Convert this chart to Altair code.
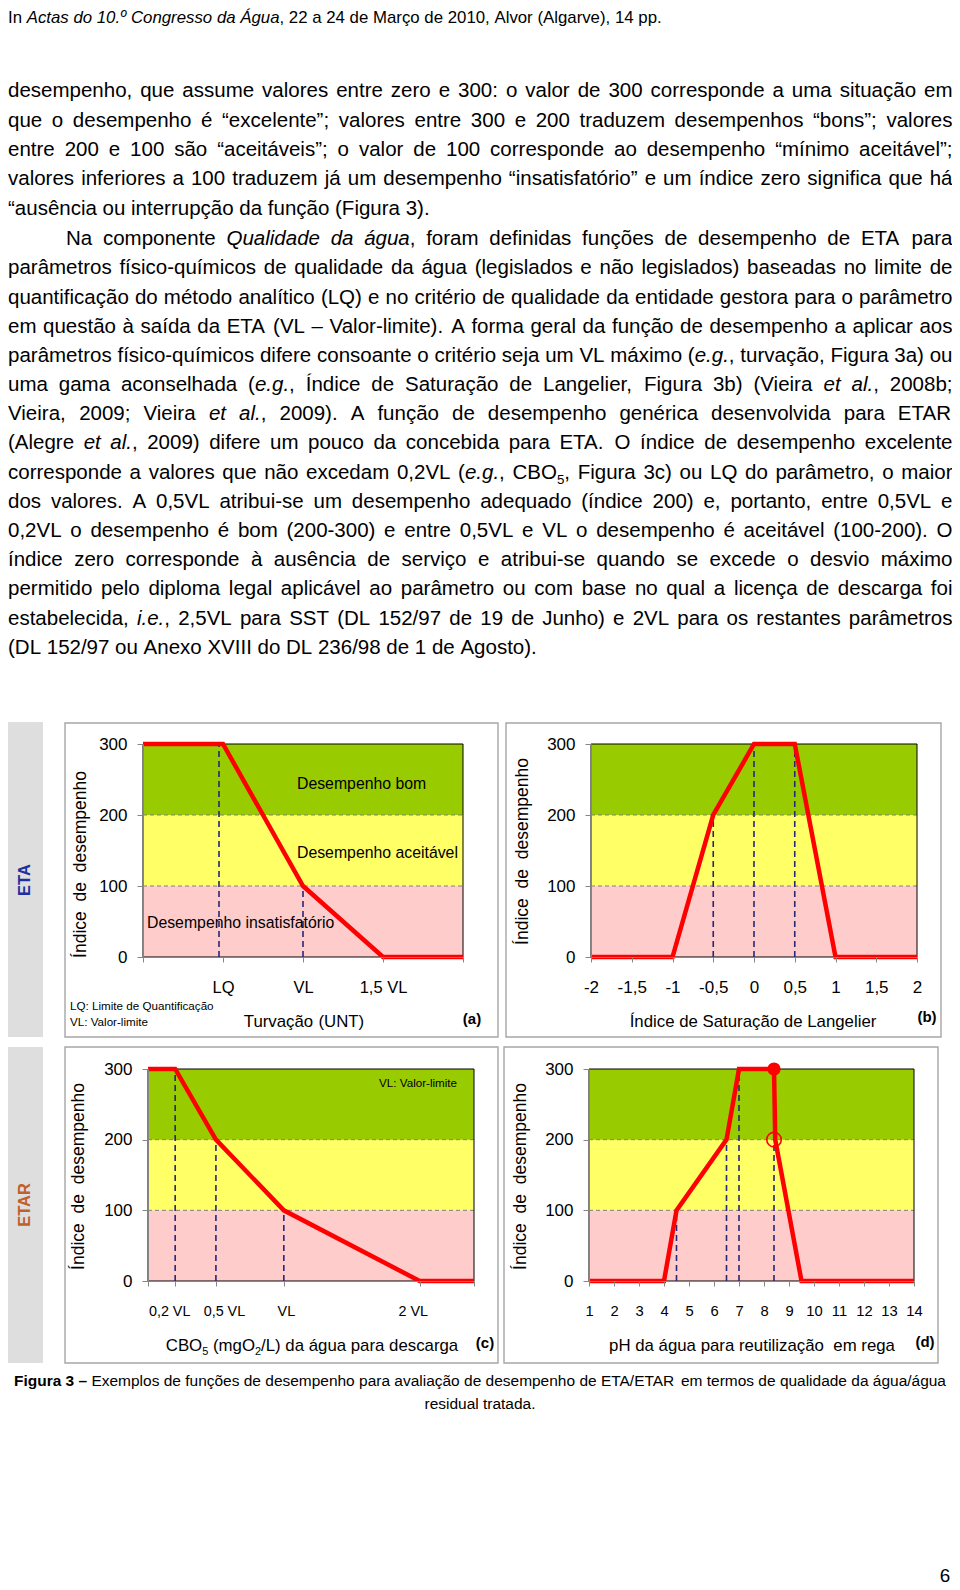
import altair as alt
import pandas as pd

# ======================= DATA =======================
zone_names = ["insatisfatório", "aceitável", "bom"]
zone_lo = [0, 100, 200]
zone_hi = [100, 200, 300]
y_ticks = [0, 100, 200, 300]

# (a) Turvação (ETA)
a_x = [0, 1, 2, 3, 4]
a_y = [300, 300, 100, 0, 0]
a_guide_x = [0.95, 2]
a_guide_y = [300, 100]
a_tick_values = [0, 1, 2, 3, 4]
a_tick_labels = ["", "LQ", "VL", "1,5 VL", ""]

# (b) Índice de Saturação de Langelier (ETA)
b_x = [-2, -1, -0.5, 0, 0.5, 1, 2]
b_y = [0, 0, 200, 300, 300, 0, 0]
b_guide_x = [-0.5, 0, 0.5]
b_guide_y = [200, 300, 300]
b_tick_values = [-2, -1.5, -1, -0.5, 0, 0.5, 1, 1.5, 2]

# (c) CBO5 (ETAR)
c_x = [0, 0.2, 0.5, 1, 2, 2.4]
c_y = [300, 300, 200, 100, 0, 0]
c_guide_x = [0.2, 0.5, 1]
c_guide_y = [300, 200, 100]
c_tick_values = [0, 0.2, 0.5, 1, 2, 2.4]
c_tick_labels = ["", "0,2 VL", "0,5 VL", "VL", "2 VL", ""]

# (d) pH (ETAR)
d_x = [1, 4, 4.5, 6.5, 7, 8.4, 8.45, 9.5, 14]
d_y = [0, 0, 100, 200, 300, 300, 200, 0, 0]
d_guide_x = [4.5, 6.5, 7, 8.4]
d_guide_y = [100, 200, 300, 300]
d_tick_values = [1, 2, 3, 4, 5, 6, 7, 8, 9, 10, 11, 12, 13, 14]
d_full_x = [8.4]
d_full_y = [300]
d_open_x = [8.4]
d_open_y = [200]

header = "In *Actas do 10.º Congresso da Água*, 22 a 24 de Março de 2010, Alvor (Algarve), 14 pp."
para1 = [
    "desempenho, que assume valores entre zero e 300: o valor de 300 corresponde a uma situação em",
    "que o desempenho é “excelente”; valores entre 300 e 200 traduzem desempenhos “bons”; valores",
    "entre 200 e 100 são “aceitáveis”; o valor de 100 corresponde ao desempenho “mínimo aceitável”;",
    "valores inferiores a 100 traduzem já um desempenho “insatisfatório” e um índice zero significa que há",
    "“ausência ou interrupção da função (Figura 3).",
]
para2 = [
    "Na componente *Qualidade da água*, foram definidas funções de desempenho de ETA para",
    "parâmetros físico-químicos de qualidade da água (legislados e não legislados) baseadas no limite de",
    "quantificação do método analítico (LQ) e no critério de qualidade da entidade gestora para o parâmetro",
    "em questão à saída da ETA (VL – Valor-limite). A forma geral da função de desempenho a aplicar aos",
    "parâmetros físico-químicos difere consoante o critério seja um VL máximo (*e.g.*, turvação, Figura 3a) ou",
    "uma gama aconselhada (*e.g.*, Índice de Saturação de Langelier, Figura 3b) (Vieira *et al.*, 2008b;",
    "Vieira, 2009; Vieira *et al.*, 2009). A função de desempenho genérica desenvolvida para ETAR",
    "(Alegre *et al.*, 2009) difere um pouco da concebida para ETA. O índice de desempenho excelente",
    "corresponde a valores que não excedam 0,2VL (*e.g.*, CBO{5}, Figura 3c) ou LQ do parâmetro, o maior",
    "dos valores. A 0,5VL atribui-se um desempenho adequado (índice 200) e, portanto, entre 0,5VL e",
    "0,2VL o desempenho é bom (200-300) e entre 0,5VL e VL o desempenho é aceitável (100-200). O",
    "índice zero corresponde à ausência de serviço e atribui-se quando se excede o desvio máximo",
    "permitido pelo diploma legal aplicável ao parâmetro ou com base no qual a licença de descarga foi",
    "estabelecida, *i.e.*, 2,5VL para SST (DL 152/97 de 19 de Junho) e 2VL para os restantes parâmetros",
    "(DL 152/97 ou Anexo XVIII do DL 236/98 de 1 de Agosto).",
]
caption = [
    "#Figura 3 –# Exemplos de funções de desempenho para avaliação de desempenho de ETA/ETAR em termos de qualidade da água/água",
    "residual tratada.",
]
y_title = "Índice\u00a0 de\u00a0 desempenho"
x_titles = {
    "a": "Turvação (UNT)",
    "b": "Índice de Saturação de Langelier",
    "c": "CBO{5} (mgO{2}/L) da água para descarga",
    "d": "pH da água para reutilização  em rega",
}
zone_notes = ["Desempenho insatisfatório", "Desempenho aceitável", "Desempenho bom"]
legend_notes = ["LQ: Limite de Quantificação", "VL: Valor-limite"]
panel_tags = ["(a)", "(b)", "(c)", "(d)"]
strip_labels = ["ETA", "ETAR"]
page_number = "6"

# ======================= STYLE / LAYOUT =======================
FONT = "Liberation Sans, Arial, sans-serif"
NARROW_K = 0.82          # narrow face emulated by a smaller Arial-metric font
ZONE_COLORS = ["#ffcccc", "#ffff66", "#99cc00"]
RED = "#ff0000"
GUIDE_C = "#26267a"
BOUND_C = "#808080"
AXIS_C = "#868686"
FRAME_C = "#a6a6a6"
STRIP_C = "#dedede"
ETA_C = "#1f2f9f"
ETAR_C = "#c0602a"

M = 8
W, H = 944, 1578

GEOM = {
    "a": dict(x0=143, x1=463, ybot=957, ytop=744, yt=(80, 864), xt=(304, 1022)),
    "b": dict(x0=591, x1=917, ybot=957, ytop=744, yt=(522, 851), xt=(753, 1022)),
    "c": dict(x0=148, x1=474, ybot=1281, ytop=1069, yt=(78, 1176), xt=(312, 1346)),
    "d": dict(x0=589, x1=914, ybot=1281, ytop=1069, yt=(520, 1176), xt=(752, 1346)),
}
# per-label nudges of the (c) tick labels, in pixels
C_LABEL_NUDGE = {0.2: -6, 0.5: 8, 1: 2, 2: -7}

# Arial (= Liberation Sans) advance widths, per 1000 em
WID = {}
for ch in "0123456789":
    WID[ch] = 556
WID.update({" ": 278, ",": 278, ".": 278, ":": 278, ";": 278, "(": 333, ")": 333,
            "-": 333, "/": 278, "–": 556, "“": 333, "”": 333, "º": 365, "\u00a0": 278})
WID.update(dict(A=667, B=667, C=722, D=722, E=667, F=611, G=778, H=722, I=278, J=500,
                K=667, L=556, M=833, N=722, O=778, P=667, Q=778, R=722, S=667, T=611,
                U=722, V=667, W=944, X=667, Y=667, Z=611))
WID.update(dict(a=556, b=556, c=500, d=556, e=556, f=278, g=556, h=556, i=222, j=222,
                k=500, l=222, m=833, n=556, o=556, p=556, q=556, r=333, s=500, t=278,
                u=556, v=500, w=722, x=500, y=500, z=500))
for ch in "áàâãäéèêóòôõúù":
    WID[ch] = 556
for ch in "íìî":
    WID[ch] = 278
WID.update({"ç": 500, "Á": 667, "Í": 278, "É": 667, "Ó": 778, "Ç": 722})
BOLD_W = dict(WID)
BOLD_W.update(dict(i=278, g=611, u=611, r=389))

SUB = 0.65


def tw(s, fs, bold=False):
    table = BOLD_W if bold else WID
    return sum(table.get(ch, 556) for ch in s) / 1000.0 * fs * NARROW_K


def parse_words(line):
    words, ital, bold, sub = [], False, False, False
    for raw in line.split(" "):
        segs, buf = [], ""
        for ch in raw:
            if ch in "*#{}":
                if buf:
                    segs.append((buf, ital, bold, sub))
                    buf = ""
                if ch == "*":
                    ital = not ital
                elif ch == "#":
                    bold = not bold
                elif ch == "{":
                    sub = True
                else:
                    sub = False
            else:
                buf += ch
        if buf:
            segs.append((buf, ital, bold, sub))
        words.append(segs)
    return words


def line_width(line, fs):
    words = parse_words(line)
    total = 0.0
    for segs in words:
        for t, it, bd, sb in segs:
            total += tw(t, fs * SUB if sb else fs, bd)
    return total + tw(" ", fs) * (len(words) - 1)


rows = []


def set_line(line, y, left=None, right=None, fs=25.0, justify=False, center=None, rightalign=None):
    words = parse_words(line)

    def sw(seg):
        t, it, bd, sb = seg
        return tw(t, fs * SUB if sb else fs, bd)

    widths = [sum(sw(s) for s in wd) for wd in words]
    gap = tw(" ", fs)
    n = len(words)
    if justify and n > 1:
        gap = (right - left - sum(widths)) / (n - 1)
    total = sum(widths) + gap * (n - 1)
    if center is not None:
        left = center - total / 2
    if rightalign is not None:
        left = rightalign - total
    x = left
    for segs in words:
        for seg in segs:
            t, it, bd, sb = seg
            f = fs * SUB if sb else fs
            style = "b" if bd else ("i" if it else "n")
            rows.append(dict(x=x, y=y + (0.28 * fs if sb else 0), text=t,
                             fs=f * NARROW_K, style=style))
            x += tw(t, f, bd)
        x += gap


# ---- page text ----
set_line(header, 18, left=8, fs=20.5)
P1_Y0, P1_DY = 91.2, 29.4
for k, ln in enumerate(para1):
    last = k == len(para1) - 1
    set_line(ln, P1_Y0 + k * P1_DY, left=8, right=952.5, fs=25, justify=not last)
P2_Y0, P2_DY = 239.2, 29.18
for k, ln in enumerate(para2):
    last = k == len(para2) - 1
    set_line(ln, P2_Y0 + k * P2_DY, left=66 if k == 0 else 8, right=952.5, fs=25, justify=not last)
cap_fs = 20.0 * 932.0 / line_width(caption[0], 20.0)
set_line(caption[0], 1381, center=480, fs=cap_fs)
set_line(caption[1], 1404, center=480, fs=cap_fs)
set_line(page_number, 1576, center=945, fs=23)

# ---- chart annotations ----
set_line(zone_notes[2], 784, left=297, fs=19.3)
set_line(zone_notes[1], 853, left=297, fs=19.3)
set_line(zone_notes[0], 923, left=147, fs=19.3)
set_line(legend_notes[0], 1007, left=70, fs=14.2)
set_line(legend_notes[1], 1023, left=70, fs=14.2)
set_line(legend_notes[1], 1084, rightalign=458, fs=14.2)
for key in "abcd":
    g = GEOM[key]
    set_line(x_titles[key], g["xt"][1], center=g["xt"][0], fs=20.5)

textdf = pd.DataFrame(rows)


def PXS():
    return alt.Scale(domain=[M, M + W], range=[0, W], nice=False, zero=False)


def PYS():
    return alt.Scale(domain=[M, M + H], range=[0, H], nice=False, zero=False)


def page_enc(xf="x", yf="y"):
    return dict(x=alt.X(f"{xf}:Q", scale=PXS(), axis=None), y=alt.Y(f"{yf}:Q", scale=PYS(), axis=None))


layers = []

# ---- strips and frames (page layout) ----
strips = pd.DataFrame({"x": [M, M], "x2": [43, 43], "y": [722, 1047], "y2": [1037, 1363]})
layers.append(
    alt.Chart(strips).mark_rect(color=STRIP_C).encode(
        x=alt.X("x:Q", scale=PXS(), axis=None), x2="x2:Q",
        y=alt.Y("y:Q", scale=PYS(), axis=None), y2="y2:Q")
)
frames = pd.DataFrame({"x": [65, 506, 65, 504], "x2": [498, 941, 498, 938],
                       "y": [723, 723, 1047, 1047], "y2": [1037, 1037, 1363, 1363]})
layers.append(
    alt.Chart(frames).mark_rect(fillOpacity=0, stroke=FRAME_C, strokeWidth=1.4).encode(
        x=alt.X("x:Q", scale=PXS(), axis=None), x2="x2:Q",
        y=alt.Y("y:Q", scale=PYS(), axis=None), y2="y2:Q")
)


def label_expr(values, labels):
    expr = "''"
    for v, l in reversed(list(zip(values, labels))):
        expr = f"datum.value == {v} ? '{l}' : ({expr})"
    return expr


def make_panel(key, xdom, lx, ly, gx, gy, tvals, lexpr, lsize, nudge=None):
    g = GEOM[key]
    xs = alt.Scale(domain=xdom, range=[g["x0"] - M, g["x1"] - M], nice=False, zero=False)
    ys = alt.Scale(domain=[0, 300], range=[g["ybot"] - M, g["ytop"] - M], nice=False, zero=False)
    extra = {}
    if nudge:
        extra["labelOffset"] = {
            "condition": [{"test": f"datum.value == {v}", "value": o} for v, o in nudge.items()],
            "value": 0,
        }
    xaxis = alt.Axis(orient="bottom", offset=g["ybot"] - M - H, values=tvals, labelExpr=lexpr,
                     tickSize=5, tickColor=AXIS_C, domainColor=AXIS_C, labelFont=FONT,
                     labelFontSize=lsize, labelColor="black", labelPadding=25,
                     labelBaseline="middle", labelFlush=False, labelOverlap=False,
                     grid=False, title=None, zindex=1, **extra)
    yaxis = alt.Axis(orient="left", offset=-(g["x0"] - M), values=y_ticks, tickSize=6,
                     tickColor=AXIS_C, domainColor=AXIS_C, labelFont=FONT, labelFontSize=17,
                     labelColor="black", labelPadding=10, labelFlush=False, grid=False,
                     title=y_title, titleFont=FONT, titleFontSize=17.5, titleFontWeight="normal",
                     titleColor="black", titleAngle=270, titleAlign="center", titleBaseline="middle",
                     titleX=g["yt"][0] - g["x0"], titleY=g["yt"][1] - M, zindex=1)
    out = []
    bands = pd.DataFrame({"zone": zone_names, "lo": zone_lo, "hi": zone_hi,
                          "xa": xdom[0], "xb": xdom[1]})
    out.append(alt.Chart(bands).mark_rect().encode(
        x=alt.X("xa:Q", scale=xs, axis=xaxis), x2="xb:Q",
        y=alt.Y("lo:Q", scale=ys, axis=yaxis), y2="hi:Q",
        color=alt.Color("zone:N", scale=alt.Scale(domain=zone_names, range=ZONE_COLORS), legend=None)))
    bounds = pd.DataFrame({"v": zone_lo[1:], "xa": xdom[0], "xb": xdom[1]})
    out.append(alt.Chart(bounds).mark_rule(color=BOUND_C, strokeDash=[4, 3], strokeWidth=1).encode(
        x=alt.X("xa:Q", scale=xs, axis=None), x2="xb:Q", y=alt.Y("v:Q", scale=ys, axis=None)))
    frame = pd.DataFrame({"xa": [xdom[0]], "xb": [xdom[1]], "lo": [zone_lo[0]], "hi": [zone_hi[-1]]})
    out.append(alt.Chart(frame).mark_rect(fillOpacity=0, stroke="black", strokeWidth=1).encode(
        x=alt.X("xa:Q", scale=xs, axis=None), x2="xb:Q",
        y=alt.Y("lo:Q", scale=ys, axis=None), y2="hi:Q"))
    guides = pd.DataFrame({"gx": gx, "gy": gy, "base": zone_lo[0]})
    out.append(alt.Chart(guides).mark_rule(color=GUIDE_C, strokeDash=[6, 4], strokeWidth=1.6).encode(
        x=alt.X("gx:Q", scale=xs, axis=None), y=alt.Y("base:Q", scale=ys, axis=None), y2="gy:Q"))
    line = pd.DataFrame({"x": lx, "y": ly, "i": list(range(len(lx)))})
    out.append(alt.Chart(line).mark_line(color=RED, strokeWidth=4.5).encode(
        x=alt.X("x:Q", scale=xs, axis=None), y=alt.Y("y:Q", scale=ys, axis=None), order="i:Q"))
    return out, xs, ys


pa, _, _ = make_panel("a", [0, 4], a_x, a_y, a_guide_x, a_guide_y, a_tick_values,
                      label_expr(a_tick_values, a_tick_labels), 16.5)
pb, _, _ = make_panel("b", [-2, 2], b_x, b_y, b_guide_x, b_guide_y, b_tick_values,
                      "replace(toString(datum.value), '.', ',')", 17)
pc, _, _ = make_panel("c", [0, 2.4], c_x, c_y, c_guide_x, c_guide_y, c_tick_values,
                      label_expr(c_tick_values, c_tick_labels), 17.5 * NARROW_K, nudge=C_LABEL_NUDGE)
pd_, dxs, dys = make_panel("d", [1, 14], d_x, d_y, d_guide_x, d_guide_y, d_tick_values,
                           "toString(datum.value)", 18 * NARROW_K)
layers += pa + pb + pc + pd_
layers.append(alt.Chart(pd.DataFrame({"x": d_full_x, "y": d_full_y})).mark_circle(
    color=RED, size=175, opacity=1).encode(
    x=alt.X("x:Q", scale=dxs, axis=None), y=alt.Y("y:Q", scale=dys, axis=None)))
layers.append(alt.Chart(pd.DataFrame({"x": d_open_x, "y": d_open_y})).mark_point(
    shape="circle", filled=False, color=RED, size=210, strokeWidth=1.6, opacity=1).encode(
    x=alt.X("x:Q", scale=dxs, axis=None), y=alt.Y("y:Q", scale=dys, axis=None)))

# ---- text layers ----
for style, kw in [("n", {}), ("i", {"fontStyle": "italic"}), ("b", {"fontWeight": "bold"})]:
    sub = textdf[textdf["style"] == style]
    if len(sub):
        layers.append(alt.Chart(sub).mark_text(align="left", baseline="middle", font=FONT,
                                               color="black", **kw).encode(
            text="text:N", size=alt.Size("fs:Q", scale=None), **page_enc()))

tags = pd.DataFrame({"text": panel_tags, "x": [472, 927, 485, 925], "y": [1019, 1017, 1343, 1342]})
layers.append(alt.Chart(tags).mark_text(align="center", baseline="middle", font=FONT,
                                        fontWeight="bold", fontSize=15, color="black").encode(
    text="text:N", **page_enc()))

strip_pos = {"ETA": (25, 880), "ETAR": (25, 1205)}
for lab, col in zip(strip_labels, [ETA_C, ETAR_C]):
    sdf = pd.DataFrame({"text": [lab], "x": [strip_pos[lab][0]], "y": [strip_pos[lab][1]]})
    layers.append(alt.Chart(sdf).mark_text(align="center", baseline="middle", font=FONT,
                                           fontWeight="bold", fontSize=16.5, angle=270, color=col).encode(
        text="text:N", **page_enc()))

chart = (
    alt.layer(*layers)
    .properties(width=W, height=H, padding=0, background="white",
                autosize=alt.AutoSizeParams(type="none"))
    .resolve_scale(x="independent", y="independent")
    .configure_view(strokeWidth=0)
)
chart.save("out.html", embed_options={"renderer": "svg", "actions": False})
